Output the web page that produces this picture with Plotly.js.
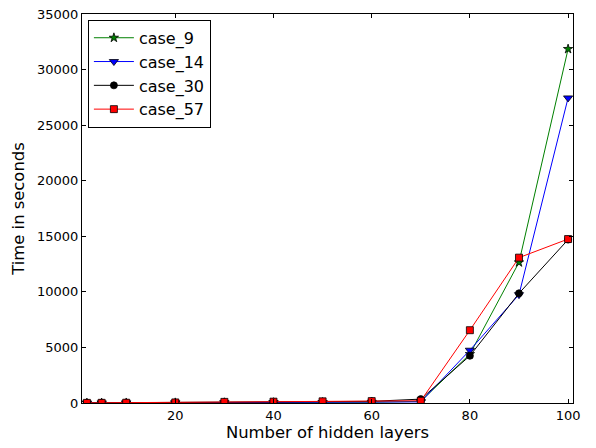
<!DOCTYPE html>
<html>
<head>
<meta charset="utf-8">
<script src="https://cdn.plot.ly/plotly-3.0.1.min.js"></script>
<style>html,body{margin:0;padding:0;background:#fff;}#chart{width:596px;height:448px;}</style>
</head>
<body>
<div id="chart"></div>
<script>
const hiddenLayers = [2, 5, 10, 20, 30, 40, 50, 60, 70, 80, 90, 100];
const case9  = [5, 8, 12, 20, 30, 40, 50, 70, 150, 4400, 12650, 31850];
const case14 = [5, 8, 12, 20, 30, 40, 50, 70, 100, 4750, 9750, 27450];
const case30 = [10, 15, 20, 40, 60, 80, 100, 150, 350, 4250, 9870, 14700];
const case57 = [10, 15, 25, 50, 100, 120, 150, 170, 200, 6550, 13080, 14750];
const seriesNames = ['case_9', 'case_14', 'case_30', 'case_57'];
const xTicks = [20, 40, 60, 80, 100];
const yTicks = [0, 5000, 10000, 15000, 20000, 25000, 30000, 35000];

function mk(name, y, color, symbol, size) {
  return {
    x: hiddenLayers, y: y, name: name, type: 'scatter', mode: 'lines+markers',
    line: {color: color, width: 1},
    marker: {symbol: symbol, size: size, color: color, line: {color: '#000', width: 0.8}},
    cliponaxis: true
  };
}
const data = [
  mk(seriesNames[0], case9, '#008000', 'star', 7),
  mk(seriesNames[1], case14, '#0000ff', 'triangle-down', 8),
  mk(seriesNames[2], case30, '#000000', 'circle', 7),
  mk(seriesNames[3], case57, '#ff0000', 'square', 7)
];
const font = {family: 'DejaVu Sans, sans-serif', color: '#000'};
const layout = {
  width: 596, height: 448,
  margin: {l: 82, r: 23, t: 14, b: 45},
  paper_bgcolor: '#fff', plot_bgcolor: '#fff',
  font: Object.assign({size: 13}, font),
  showlegend: true,
  xaxis: {
    range: [1, 101], tickvals: xTicks, ticktext: xTicks.map(String),
    ticks: 'inside', ticklen: 4, tickwidth: 1, tickcolor: '#000',
    showline: true, linecolor: '#000', linewidth: 1, mirror: 'allticks',
    showgrid: false, zeroline: false,
    tickfont: Object.assign({size: 13}, font),
    title: {text: 'Number of hidden layers', font: Object.assign({size: 16.4}, font), standoff: 4}
  },
  yaxis: {
    range: [0, 35000], tickvals: yTicks, ticktext: yTicks.map(String),
    ticks: 'inside', ticklen: 4, tickwidth: 1, tickcolor: '#000',
    showline: true, linecolor: '#000', linewidth: 1, mirror: 'allticks',
    showgrid: false, zeroline: false,
    tickfont: Object.assign({size: 13}, font),
    title: {text: 'Time in seconds', font: Object.assign({size: 16.4}, font), standoff: 8}
  },
  legend: {
    x: 0.012, y: 0.985, xanchor: 'left', yanchor: 'top',
    bgcolor: '#fff', bordercolor: '#000', borderwidth: 1,
    font: Object.assign({size: 16}, font),
    tracegroupgap: 0, itemwidth: 40
  }
};
Plotly.newPlot('chart', data, layout, {staticPlot: true, displayModeBar: false});
</script>
</body>
</html>
